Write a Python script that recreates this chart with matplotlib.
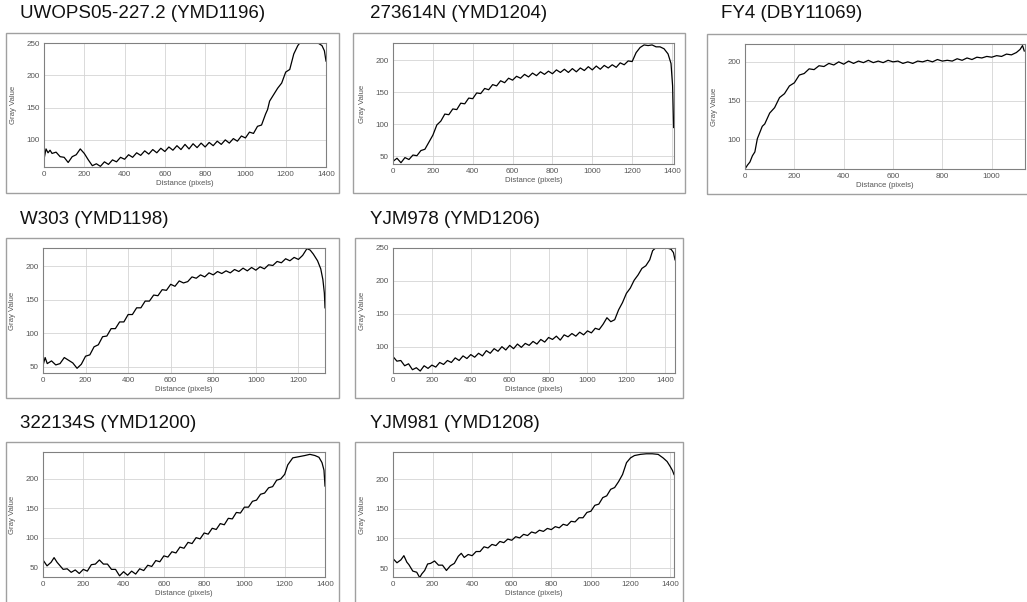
import matplotlib.pyplot as plt
from matplotlib.patches import Rectangle

# ---- data: (distance in pixels, gray value) ----
titles = ["UWOPS05-227.2 (YMD1196)", "273614N (YMD1204)", "FY4 (DBY11069)",
          "W303 (YMD1198)", "YJM978 (YMD1206)",
          "322134S (YMD1200)", "YJM981 (YMD1208)"]

profile_1196 = [(0, 70), (10, 86), (20, 80), (30, 84), (40, 79), (60, 81), (80, 74), (100, 73), (120, 65),
                (140, 74), (160, 77), (180, 86), (200, 79), (220, 69), (240, 60), (260, 63), (280, 59),
                (300, 66), (320, 62), (340, 69), (360, 66), (380, 73), (400, 70), (420, 77), (440, 73),
                (460, 80), (480, 76), (500, 83), (520, 78), (540, 85), (560, 80), (580, 87), (600, 82),
                (620, 89), (640, 84), (660, 91), (680, 85), (700, 93), (720, 86), (740, 94), (760, 88),
                (780, 95), (800, 89), (820, 96), (840, 91), (860, 98), (880, 93), (900, 100), (920, 95),
                (940, 102), (960, 98), (980, 106), (1000, 103), (1020, 112), (1040, 110), (1060, 121),
                (1080, 123), (1100, 140), (1110, 147), (1120, 160), (1140, 170), (1160, 180), (1180, 188),
                (1200, 205), (1220, 209), (1240, 233), (1260, 246), (1270, 250), (1300, 250), (1330, 250),
                (1360, 250), (1380, 246), (1392, 238), (1400, 222)]

profile_1204 = [(0, 42), (20, 47), (40, 40), (60, 48), (80, 45), (100, 52), (120, 51), (140, 59), (160, 61),
                (180, 72), (200, 83), (220, 99), (240, 105), (260, 116), (280, 115), (300, 124), (320, 123),
                (340, 133), (360, 132), (380, 141), (400, 140), (420, 149), (440, 148), (460, 156),
                (480, 154), (500, 162), (520, 160), (540, 168), (560, 165), (580, 172), (600, 169),
                (620, 175), (640, 172), (660, 178), (680, 174), (700, 180), (720, 176), (740, 182),
                (760, 178), (780, 183), (800, 179), (820, 185), (840, 181), (860, 186), (880, 181),
                (900, 187), (920, 182), (940, 188), (960, 184), (980, 190), (1000, 185), (1020, 191),
                (1040, 186), (1060, 192), (1080, 188), (1100, 193), (1120, 189), (1140, 196), (1160, 193),
                (1180, 199), (1200, 198), (1220, 212), (1240, 220), (1260, 224), (1280, 223), (1300, 224),
                (1320, 221), (1340, 221), (1360, 218), (1380, 210), (1395, 195), (1403, 160), (1408, 95)]

profile_11069 = [(0, 62), (10, 67), (20, 71), (30, 79), (40, 84), (50, 101), (60, 109), (70, 117), (80, 120),
                 (100, 134), (120, 141), (140, 154), (160, 159), (180, 169), (200, 173), (220, 183), (240, 185),
                 (260, 191), (280, 190), (300, 195), (320, 194), (340, 198), (360, 196), (380, 200), (400, 197),
                 (420, 201), (440, 198), (460, 201), (480, 199), (500, 202), (520, 199), (540, 201), (560, 199),
                 (580, 202), (600, 200), (620, 201), (640, 198), (660, 200), (680, 198), (700, 201), (720, 200),
                 (740, 202), (760, 200), (780, 203), (800, 201), (820, 202), (840, 201), (860, 204), (880, 202),
                 (900, 205), (920, 203), (940, 206), (960, 205), (980, 207), (1000, 206), (1020, 208),
                 (1040, 207), (1060, 210), (1080, 209), (1100, 212), (1115, 216), (1125, 221), (1132, 214)]

profile_1198 = [(0, 52), (10, 64), (20, 55), (40, 59), (60, 53), (80, 55), (100, 64), (110, 62), (120, 60),
                (140, 56), (160, 48), (180, 54), (200, 66), (220, 68), (240, 80), (260, 83), (280, 95),
                (300, 96), (320, 107), (340, 107), (360, 117), (380, 117), (400, 128), (420, 128), (440, 138),
                (460, 138), (480, 148), (500, 148), (520, 157), (540, 156), (560, 165), (580, 164), (600, 173),
                (620, 170), (640, 178), (660, 175), (680, 177), (700, 184), (720, 182), (740, 187), (760, 184),
                (780, 190), (800, 187), (820, 192), (840, 189), (860, 193), (880, 190), (900, 195), (920, 192),
                (940, 197), (960, 193), (980, 198), (1000, 194), (1020, 199), (1040, 196), (1060, 202),
                (1080, 201), (1100, 207), (1120, 205), (1140, 211), (1160, 208), (1180, 213), (1200, 210),
                (1220, 216), (1240, 226), (1255, 224), (1270, 218), (1290, 208), (1305, 196), (1315, 180),
                (1322, 160), (1325, 138)]

profile_1206 = [(0, 85), (20, 78), (40, 79), (60, 71), (80, 74), (100, 65), (120, 68), (140, 63), (160, 71),
                (180, 67), (200, 72), (220, 69), (240, 76), (260, 73), (280, 79), (300, 76), (320, 83),
                (340, 79), (360, 86), (380, 82), (400, 88), (420, 84), (440, 90), (460, 86), (480, 94),
                (500, 90), (520, 97), (540, 93), (560, 100), (580, 95), (600, 102), (620, 97), (640, 104),
                (660, 99), (680, 105), (700, 102), (720, 108), (740, 104), (760, 111), (780, 107), (800, 114),
                (820, 111), (840, 116), (860, 110), (880, 118), (900, 115), (920, 120), (940, 116), (960, 122),
                (980, 118), (1000, 124), (1020, 121), (1040, 128), (1060, 126), (1080, 134), (1100, 144),
                (1120, 138), (1140, 141), (1160, 156), (1180, 167), (1200, 181), (1220, 189), (1240, 201),
                (1260, 209), (1280, 219), (1300, 223), (1320, 232), (1335, 246), (1350, 250), (1380, 250),
                (1410, 250), (1430, 248), (1442, 243), (1450, 232)]

profile_1200 = [(0, 62), (20, 52), (40, 58), (55, 66), (70, 58), (80, 54), (100, 46), (120, 47), (140, 41),
                (160, 45), (180, 39), (200, 46), (220, 43), (240, 54), (260, 55), (280, 62), (300, 55),
                (320, 55), (340, 46), (360, 46), (380, 35), (400, 42), (420, 36), (440, 43), (460, 38),
                (480, 47), (500, 44), (520, 53), (540, 51), (560, 61), (580, 59), (600, 69), (620, 67),
                (640, 76), (660, 74), (680, 84), (700, 82), (720, 92), (740, 90), (760, 100), (780, 98),
                (800, 108), (820, 106), (840, 116), (860, 114), (880, 124), (900, 122), (920, 133), (940, 132),
                (960, 143), (980, 142), (1000, 152), (1020, 152), (1040, 162), (1060, 164), (1080, 174),
                (1100, 176), (1120, 185), (1140, 187), (1160, 198), (1180, 200), (1200, 208), (1215, 224),
                (1240, 236), (1270, 238), (1300, 240), (1325, 242), (1350, 240), (1370, 237), (1385, 228),
                (1395, 215), (1400, 188)]

profile_1208 = [(0, 66), (20, 59), (40, 64), (55, 71), (70, 60), (80, 56), (100, 45), (120, 43), (135, 34),
                (145, 40), (160, 46), (175, 57), (190, 58), (210, 62), (230, 55), (250, 55), (270, 46),
                (290, 54), (310, 58), (330, 70), (345, 75), (360, 68), (380, 73), (400, 71), (420, 78),
                (440, 78), (460, 86), (480, 84), (500, 90), (520, 88), (540, 95), (560, 93), (580, 99),
                (600, 97), (620, 103), (640, 101), (660, 107), (680, 105), (700, 111), (720, 109), (740, 114),
                (760, 112), (780, 117), (800, 115), (820, 120), (840, 118), (860, 124), (880, 122), (900, 129),
                (920, 128), (940, 135), (960, 135), (980, 144), (1000, 146), (1020, 156), (1040, 158),
                (1060, 169), (1080, 172), (1100, 183), (1120, 186), (1140, 196), (1160, 208), (1180, 228),
                (1200, 236), (1220, 240), (1250, 242), (1280, 243), (1310, 243), (1340, 242), (1365, 236),
                (1385, 230), (1400, 222), (1412, 215), (1420, 208)]

profiles = [profile_1196, profile_1204, profile_11069, profile_1198, profile_1206, profile_1200, profile_1208]
xlims = [(0, 1400), (0, 1410), (0, 1135), (0, 1325), (0, 1450), (0, 1400), (0, 1420)]
ylims = [(58, 250), (38, 227), (62, 223), (41, 227), (60, 250), (33, 246), (35, 246)]
xticks = [range(0, 1401, 200), range(0, 1401, 200), range(0, 1001, 200), range(0, 1201, 200),
          range(0, 1401, 200), range(0, 1401, 200), range(0, 1401, 200)]
yticks = [[100, 150, 200, 250], [50, 100, 150, 200], [100, 150, 200], [50, 100, 150, 200],
          [100, 150, 200, 250], [50, 100, 150, 200], [50, 100, 150, 200]]

# ---- layout in pixels: axes box, outer frame, title anchor ----
axes_px = [(44, 43, 326, 167), (393, 43, 674, 164), (745, 44, 1025, 169),
           (43, 248, 325, 373), (393, 248, 675, 373),
           (43, 452, 325, 577), (393, 452, 674, 577)]
frame_px = [(6, 33, 339, 193), (353, 33, 685, 193), (707, 34, 1032, 194),
            (6, 238, 339, 398), (355, 238, 683, 398),
            (6, 442, 339, 606), (355, 442, 683, 606)]
title_px = [(20, 14), (370, 14), (721, 14), (20, 219), (370, 219), (20, 423), (370, 423)]

W, H = 1027, 602
fig = plt.figure(figsize=(W / 100, H / 100), dpi=100)
fig.patch.set_facecolor('white')
plt.rcParams['font.family'] = ['Liberation Sans', 'DejaVu Sans']


def px_rect(l, t, r, b):
    return [l / W, 1 - b / H, (r - l) / W, (b - t) / H]


for i in range(len(titles)):
    l, t, r, b = frame_px[i]
    x0, y0, w, h = px_rect(l, t, r, b)
    fig.patches.append(Rectangle((x0, y0), w, h, transform=fig.transFigure,
                                 fill=False, ec='#a0a0a0', lw=1.0))
    tx, ty = title_px[i]
    fig.text(tx / W, 1 - ty / H, titles[i], fontsize=13.5, va='center', ha='left', color='#111111')

    xs = [p[0] for p in profiles[i]]
    ys = [p[1] for p in profiles[i]]
    ax = fig.add_axes(px_rect(*axes_px[i]))
    ax.plot(xs, ys, color='black', lw=0.9)
    ax.set_xlim(*xlims[i])
    ax.set_ylim(*ylims[i])
    ax.set_xticks(list(xticks[i]))
    ax.set_yticks(yticks[i])
    ax.grid(True, color='#d4d4d4', lw=0.6)
    ax.set_axisbelow(True)
    for s in ax.spines.values():
        s.set_color('#808080')
        s.set_linewidth(0.8)
    ax.tick_params(labelsize=5.8, colors='#555555', length=0, pad=3)
    ax.set_xlabel('Distance (pixels)', fontsize=5.6, color='#555555', labelpad=1)
    ax.set_ylabel('Gray Value', fontsize=5.6, color='#555555', labelpad=7)

fig.savefig('out.png', dpi=100)
